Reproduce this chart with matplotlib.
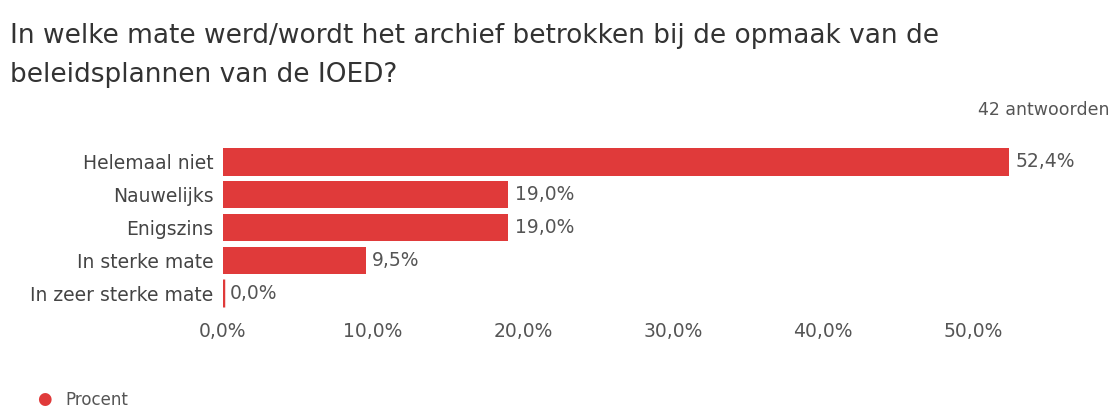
import matplotlib
matplotlib.use("Agg")
import matplotlib.pyplot as plt

# data
categorieen = ["Helemaal niet", "Nauwelijks", "Enigszins", "In sterke mate", "In zeer sterke mate"]
procent = [52.4, 19.0, 19.0, 9.5, 0.0]
x_ticks = [0, 10, 20, 30, 40, 50]
titel_1 = "In welke mate werd/wordt het archief betrokken bij de opmaak van de"
titel_2 = "beleidsplannen van de IOED?"
aantal = "42 antwoorden"

rood = "#e03a3a"
grijs = "#555555"

plt.rcParams['font.family'] = ['DejaVu Sans']

fig = plt.figure(figsize=(11.16, 4.09), dpi=100)
ax = fig.add_axes([223 / 1116, 1 - 309.5 / 409, 870 / 1116, 164 / 409])

y = list(range(len(categorieen)))
bars = ax.barh(y, procent, height=0.84, color=rood, edgecolor=rood, linewidth=0)
for b, v in zip(bars, procent):
    if v == 0:
        b.set_linewidth(2.5)
for yi, v in zip(y, procent):
    ax.text(v + 0.45, yi, f"{v:.1f}%".replace(".", ","), va="center", ha="left",
            fontsize=13.5, color=grijs)

ax.set_yticks(y)
ax.set_yticklabels(categorieen, fontsize=13.5, color="#444444")
ax.set_ylim(len(categorieen) - 0.5, -0.5)
ax.set_xlim(0, 58)
ax.set_xticks(x_ticks)
ax.set_xticklabels([f"{t:.1f}%".replace(".", ",") for t in x_ticks], fontsize=13.5, color=grijs)
ax.tick_params(axis="both", length=0)
ax.tick_params(axis="x", pad=9)
ax.tick_params(axis="y", pad=7)
for s in ax.spines.values():
    s.set_visible(False)

fig.text(10 / 1116, 1 - 36 / 409, titel_1, fontsize=19, color="#333333", va="center", ha="left")
fig.text(10 / 1116, 1 - 75 / 409, titel_2, fontsize=19, color="#333333", va="center", ha="left")
fig.text(1110 / 1116, 1 - 110 / 409, aantal, fontsize=12.5, color=grijs, ha="right", va="center")

fig.text(44 / 1116, 1 - 399 / 409, "\u25cf", fontsize=12, color=rood, ha="center", va="center")
fig.text(65 / 1116, 1 - 400 / 409, "Procent", fontsize=12, color=grijs, ha="left", va="center")

fig.savefig("out.png", dpi=100, facecolor="white")
